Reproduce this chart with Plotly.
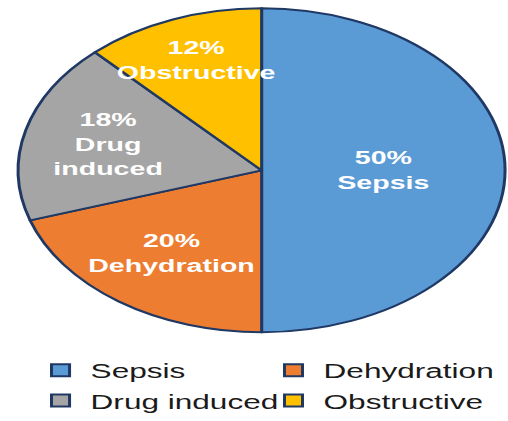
import plotly.graph_objects as go

categories = ["Sepsis", "Dehydration", "Drug induced", "Obstructive"]
slice_text = ["Sepsis", "Dehydration", "Drug<br>induced", "Obstructive"]
values = [50, 20, 18, 12]
colors = ["#5B9BD5", "#ED7D31", "#A5A5A5", "#FFC000"]

W, H = 338, 421
SX = 508 / W  # horizontal stretch of the original image

fig = go.Figure(go.Pie(
    labels=categories,
    values=values,
    text=slice_text,
    texttemplate="%{percent:.0%}<br>%{text}",
    textinfo="text",
    textposition="inside",
    insidetextorientation="horizontal",
    sort=False,
    direction="clockwise",
    rotation=0,
    marker=dict(colors=colors, line=dict(color="#1F3864", width=2)),
    textfont=dict(family="Liberation Sans, Arial", size=19, color="white", weight="bold"),
    domain=dict(x=[0.035, 0.995], y=[0.205, 0.98]),
    hoverinfo="label+percent",
))

fig.update_layout(
    width=W, height=H,
    margin=dict(l=0, r=0, t=0, b=0),
    paper_bgcolor="white",
    uniformtext=dict(minsize=19, mode="show"),
    showlegend=True,
    legend=dict(
        orientation="h",
        x=0.06, y=0.162, xanchor="left", yanchor="top",
        entrywidth=110, entrywidthmode="pixels",
        font=dict(family="Liberation Sans, Arial", size=21, color="#1a1a1a"),
        itemwidth=30,
        traceorder="normal",
    ),
    font=dict(family="Liberation Sans, Arial"),
)

post = (
    "document.body.style.margin='0';document.body.style.overflow='hidden';"
    "var gd=document.getElementById('{plot_id}');"
    "gd.style.transformOrigin='0 0';gd.style.transform='scaleX(%.4f)';" % SX
)
fig.write_html("out.html", post_script=post, config={"displayModeBar": False})
